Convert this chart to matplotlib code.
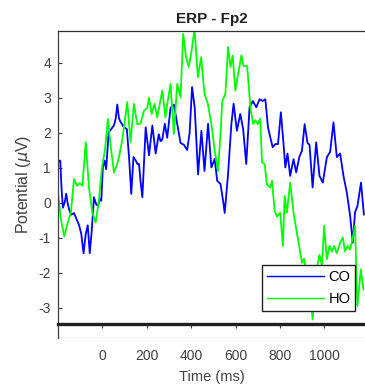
import matplotlib
matplotlib.use("Agg")
import matplotlib.pyplot as plt

# ---- data ----
t_co = [-200, -190, -184, -178, -170, -163, -157, -150, -140, -128, -118, -105, -95, -85,
        -75, -66, -57, -48, -38, -28, -20, -12, -5, 2, 10, 17, 28, 40, 52, 60, 67, 75, 82,
        97, 110, 120, 130, 140, 150, 158, 165, 172, 180, 195, 210, 225, 240, 254, 262, 270,
        281, 292, 307, 322, 337, 352, 367, 382, 393, 404, 416, 431, 446, 460, 476, 491, 506,
        517, 532, 545, 551, 566, 581, 591, 606, 621, 634, 648, 663, 678, 693, 708, 723, 734,
        746, 756, 767, 779, 791, 804, 816, 824, 834, 846, 861, 873, 887, 899, 911, 924, 933,
        947, 963, 978, 993, 1011, 1026, 1041, 1056, 1071, 1086, 1101, 1116, 1128, 1138, 1149,
        1165, 1178]
v_co = [1.15, 1.2, 0.4, -0.15, 0.0, 0.25, 0.0, -0.2, -0.35, -0.3, -0.45, -0.65, -0.9, -1.45,
        -0.9, -0.65, -1.45, -0.8, 0.15, -0.05, -0.1, 0.1, 0.05, 1.0, 1.2, 0.95, 2.0, 2.1, 2.2,
        2.4, 2.8, 2.4, 2.3, 2.15, 2.1, 1.3, 0.25, 1.3, 1.2, 1.1, 1.1, 0.6, 0.15, 2.15, 1.35,
        2.2, 1.4, 1.95, 1.75, 1.8, 2.25, 1.85, 2.7, 2.8, 2.25, 1.7, 1.65, 1.5, 2.0, 3.3, 2.7,
        0.8, 2.05, 0.9, 2.25, 1.0, 1.25, 0.62, 0.53, 0.0, -0.3, 0.8, 2.24, 2.82, 2.05, 2.53,
        2.1, 1.1, 2.72, 2.9, 2.72, 2.95, 2.9, 2.95, 2.15, 1.87, 1.58, 1.67, 1.67, 2.58, 1.67,
        1.0, 1.4, 0.76, 1.24, 0.86, 1.3, 1.48, 2.24, 1.7, 1.65, 0.43, 1.72, 0.76, 0.57, 1.29,
        1.45, 2.29, 1.3, 1.4, 0.76, 0.29, -0.38, -1.15, -0.28, -0.1, 0.57, -0.34]

t_ho = [-200, -187, -172, -157, -142, -128, -115, -102, -90, -75, -60, -45, -30, -15, -3, 12,
        25, 37, 52, 64, 75, 90, 100, 112, 127, 142, 157, 172, 187, 202, 210, 222, 235, 247,
        270, 284, 292, 307, 322, 337, 352, 364, 377, 389, 401, 415, 430, 445, 460, 475, 491,
        506, 521, 532, 540, 554, 566, 577, 587, 599, 614, 626, 636, 652, 667, 679, 689, 700,
        711, 719, 731, 741, 756, 764, 776, 786, 801, 813, 821, 831, 846, 861, 876, 888, 899,
        909, 921, 936, 947, 956, 967, 978, 989, 999, 1011, 1023, 1034, 1044, 1056, 1071, 1083,
        1093, 1104, 1116, 1128, 1138, 1149, 1164, 1176]
v_ho = [0.29, -0.48, -0.96, -0.6, -0.29, 0.67, 0.48, 0.55, 0.48, 1.72, 0.4, -0.29, -0.57, 0.1,
        0.95, 1.53, 2.39, 1.63, 0.86, 1.05, 1.3, 1.81, 2.29, 2.87, 1.72, 2.82, 2.24, 2.26,
        2.62, 2.7, 3.0, 2.53, 2.82, 2.43, 3.2, 2.43, 2.8, 3.39, 1.96, 3.39, 3.0, 4.82, 4.15,
        3.87, 4.3, 4.96, 3.58, 4.15, 3.1, 2.82, 2.24, 1.48, 0.9, 1.96, 2.9, 3.1, 4.44, 3.87,
        4.2, 3.2, 3.77, 4.2, 3.9, 3.9, 2.72, 2.24, 2.35, 2.24, 2.4, 1.15, 1.1, 0.52, 0.43,
        0.62, -0.24, -0.4, -0.29, -1.24, 0.19, -0.29, 0.57, -0.29, -0.86, -1.3, -1.72, -1.6,
        -2.2, -2.58, -3.34, -2.6, -1.82, -1.5, -1.8, -0.67, -1.62, -1.24, -1.4, -1.24, -1.45,
        -1.15, -1.0, -1.4, -1.24, -1.34, -1.0, -0.67, -2.96, -1.91, -2.48]

series_names = ["CO", "HO"]
x_ticks = [0, 200, 400, 600, 800, 1000]
y_ticks = [-3, -2, -1, 0, 1, 2, 3, 4]

plt.rcParams['font.family'] = ['Liberation Sans', 'DejaVu Sans']
plt.rcParams['axes.unicode_minus'] = False
tick_color = '#404040'

fig = plt.figure(figsize=(3.65, 3.89), dpi=100)
ax = fig.add_axes([58/365, 1-338/389, 1-58/365, (338-31)/389])

ax.plot(t_co, v_co, color=(0, 0, 1), lw=1.3, label=series_names[0])
ax.plot(t_ho, v_ho, color=(0, 1, 0), lw=1.3, label=series_names[1])

ax.set_xlim(-200, 1183)
ax.set_ylim(-3.87, 4.9)

# thick baseline (x axis drawn at data level)
ax.spines['bottom'].set_position(('data', -3.47))
ax.spines['bottom'].set_linewidth(2.4)
ax.spines['bottom'].set_color('#202020')
ax.axhline(-3.87, color='#c8c8c8', lw=1.0, zorder=0)
ax.spines['right'].set_visible(False)
ax.spines['top'].set_color('#303030')
ax.spines['left'].set_color('#404040')
ax.spines['top'].set_linewidth(0.9)
ax.spines['left'].set_linewidth(0.9)

ax.set_xticks(x_ticks)
ax.set_yticks(y_ticks)
ax.tick_params(axis='x', direction='out', length=3, width=0.8, colors=tick_color,
               labelsize=10, pad=15)
ax.tick_params(axis='y', direction='in', length=3, width=0.8, colors=tick_color,
               labelsize=10, pad=5)

ax.set_title('ERP - Fp2', fontsize=11, fontweight='bold', color='#202020', pad=6)
ax.set_xlabel('Time (ms)', fontsize=10.5, color=tick_color, labelpad=5)
ax.set_ylabel('Potential ($\\mu$V)', fontsize=11.5, color=tick_color, labelpad=4)

leg = ax.legend(loc='upper left', bbox_to_anchor=((262-58)/307, 1-(265-31)/307),
                fontsize=10.5, frameon=True, fancybox=False, framealpha=1,
                edgecolor='#202020', handlelength=3.9, borderpad=0.35,
                labelspacing=0.55, handletextpad=0.3, borderaxespad=0)
leg.get_frame().set_linewidth(1.0)
for ln in leg.get_lines():
    ln.set_linewidth(1.0)

fig.savefig('out.png', dpi=100)
